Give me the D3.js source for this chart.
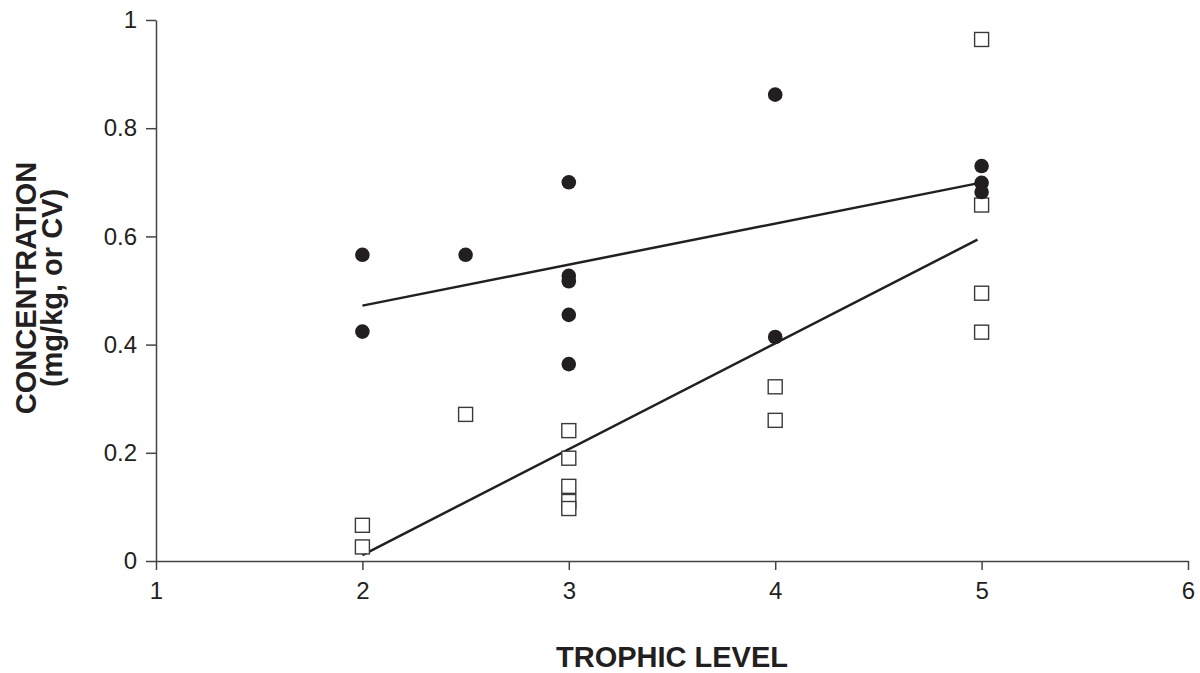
<!DOCTYPE HTML>
<meta charset="utf-8">
<html>
<head>
<script src="https://d3js.org/d3.v7.min.js"></script>
<style>
  body { margin: 0; background: #fff; }
  text { font-family: "Liberation Sans", Arial, sans-serif; fill: #231f20; }
</style>
</head>
<body>
<script>
// concentration (filled circles)
var circleX = [2, 2, 2.5, 3, 3, 3, 3, 3, 4, 4, 5, 5, 5];
var circleY = [0.566, 0.424, 0.566, 0.700, 0.527, 0.517, 0.455, 0.364, 0.862, 0.414, 0.730, 0.699, 0.682];

// CV (open squares)
var squareX = [2, 2, 2.5, 3, 3, 3, 3, 3, 4, 4, 5, 5, 5, 5];
var squareY = [0.066, 0.026, 0.271, 0.241, 0.190, 0.138, 0.110, 0.097, 0.322, 0.260, 0.964, 0.658, 0.495, 0.423];

// fitted lines, end points
var lineX = [2, 4.98];
var circleFit = [0.472, 0.698];
var squareFit = [0.011, 0.594];

var xTicks = [1, 2, 3, 4, 5, 6];
var yTicks = [0, 0.2, 0.4, 0.6, 0.8, 1];

var margin = {top: 20, right: 12, bottom: 112, left: 156},
    width = 1200 - margin.left - margin.right,
    height = 673 - margin.top - margin.bottom;

var svg = d3.select("body").append("svg")
    .attr("width", 1200)
    .attr("height", 673);

var g = svg.append("g")
    .attr("transform", "translate(" + margin.left + "," + margin.top + ")");

var x = d3.scaleLinear().domain([1, 6]).range([0, width]),
    y = d3.scaleLinear().domain([0, 1]).range([height, 0]);

// x axis
var xAxis = g.append("g")
    .attr("transform", "translate(0," + height + ")")
    .call(d3.axisBottom(x).tickValues(xTicks).tickFormat(d3.format("d")).tickSize(9).tickSizeOuter(0));

// y axis
var yAxis = g.append("g")
    .call(d3.axisLeft(y).tickValues(yTicks).tickFormat(function(d){ return d === 0 || d === 1 ? d : d.toFixed(1); }).tickSize(10).tickSizeOuter(0));

[xAxis, yAxis].forEach(function(a) {
    a.attr("font-size", null).attr("font-family", null);
    a.select(".domain").attr("stroke", "#444").attr("stroke-width", 1.5);
    a.selectAll(".tick line").attr("stroke", "#444").attr("stroke-width", 1.5);
    a.selectAll(".tick text")
        .style("font-size", "24px")
        .style("font-family", "Liberation Sans, Arial, sans-serif")
        .attr("fill", "#231f20");
});
xAxis.selectAll(".tick text").attr("dy", null).attr("y", 38);
yAxis.selectAll(".tick text").attr("x", -19);

// fitted lines
var line = d3.line()
    .x(function(d){ return x(d[0]); })
    .y(function(d){ return y(d[1]); });

g.append("path")
    .datum(d3.zip(lineX, circleFit))
    .attr("d", line)
    .attr("fill", "none")
    .attr("stroke", "#231f20")
    .attr("stroke-width", 2.5);

g.append("path")
    .datum(d3.zip(lineX, squareFit))
    .attr("d", line)
    .attr("fill", "none")
    .attr("stroke", "#231f20")
    .attr("stroke-width", 2.5);

// squares
var sq = 14;
g.selectAll(".sq")
    .data(d3.zip(squareX, squareY))
    .enter()
    .append("rect")
    .attr("class", "sq")
    .attr("x", function(d){ return x(d[0]) - sq / 2; })
    .attr("y", function(d){ return y(d[1]) - sq / 2; })
    .attr("width", sq)
    .attr("height", sq)
    .attr("fill", "#fff")
    .attr("stroke", "#3a3a3a")
    .attr("stroke-width", 1.4);

// circles
g.selectAll(".dot")
    .data(d3.zip(circleX, circleY))
    .enter()
    .append("circle")
    .attr("class", "dot")
    .attr("cx", function(d){ return x(d[0]); })
    .attr("cy", function(d){ return y(d[1]); })
    .attr("r", 7.3)
    .attr("fill", "#231f20");

// axis titles
svg.append("text")
    .attr("x", margin.left + width / 2)
    .attr("y", 667)
    .attr("text-anchor", "middle")
    .style("font-size", "29px")
    .attr("font-weight", "bold")
    .text("TROPHIC LEVEL");

var yt = svg.append("text")
    .attr("transform", "translate(36,288) rotate(-90)")
    .attr("text-anchor", "middle")
    .style("font-size", "29px")
    .attr("font-weight", "bold");
yt.append("tspan").attr("x", 0).attr("y", 0).text("CONCENTRATION");
yt.append("tspan").attr("x", 0).attr("y", 26).text("(mg/kg, or CV)");
</script>
</body>
</html>
